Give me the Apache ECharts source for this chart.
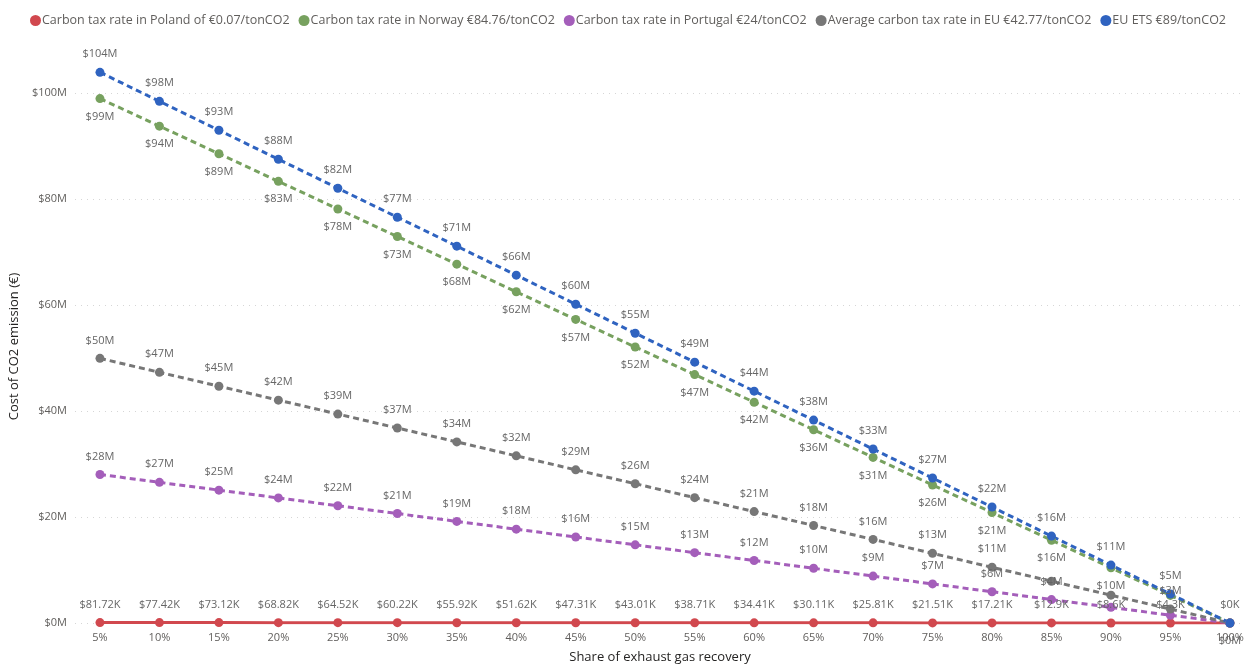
<!DOCTYPE html>
<html>
<head>
<meta charset="utf-8">
<script src="https://cdn.jsdelivr.net/npm/echarts@6/dist/echarts.min.js"></script>
<style>
  html, body { margin: 0; padding: 0; background: #fff; }
  #chart { width: 1248px; height: 666px; }
</style>
</head>
<body>
<div id="chart"></div>
<script>
// Share of exhaust gas recovery (%)
const shares = [5, 10, 15, 20, 25, 30, 35, 40, 45, 50, 55, 60, 65, 70, 75, 80, 85, 90, 95, 100];

// Cost of CO2 emission, in millions
const poland = [0.08172, 0.07742, 0.07312, 0.06882, 0.06452, 0.06022, 0.05592, 0.05162, 0.04731, 0.04301,
                0.03871, 0.03441, 0.03011, 0.02581, 0.02151, 0.01721, 0.0129, 0.0086, 0.0043, 0];
const norway = [98.95, 93.75, 88.54, 83.33, 78.12, 72.92, 67.71, 62.49, 57.28, 52.08,
                46.87, 41.66, 36.46, 31.25, 26.04, 20.84, 15.62, 10.41, 5.21, 0];
const portugal = [28.02, 26.54, 25.07, 23.60, 22.12, 20.65, 19.17, 17.70, 16.22, 14.75,
                  13.27, 11.80, 10.32, 8.85, 7.37, 5.90, 4.42, 2.95, 1.47, 0];
const euAverage = [49.93, 47.30, 44.68, 42.05, 39.42, 36.79, 34.17, 31.54, 28.90, 26.28,
                   23.65, 21.02, 18.40, 15.77, 13.14, 10.51, 7.88, 5.25, 2.63, 0];
const euEts = [103.90, 98.43, 92.97, 87.50, 82.03, 76.56, 71.10, 65.63, 60.15, 54.68,
               49.22, 43.75, 38.28, 32.82, 27.35, 21.88, 16.40, 10.93, 5.47, 0];

const seriesNames = [
  'Carbon tax rate in Poland of €0.07/tonCO2',
  'Carbon tax rate in Norway €84.76/tonCO2',
  'Carbon tax rate in Portugal €24/tonCO2',
  'Average carbon tax rate in EU €42.77/tonCO2',
  'EU ETS €89/tonCO2'
];
const yTicks = [0, 20, 40, 60, 80, 100];

const FONT = '"Open Sans", "Noto Sans", sans-serif';
const colors = ['#D1484E', '#77A15F', '#A45EBA', '#777777', '#2F63C0'];

const fmtM = v => '$' + Math.round(v) + 'M';
const fmtK = v => {
  const k = Math.round(v * 1000 * 100) / 100;
  return '$' + k + 'K';
};

function pairs(values) {
  return values.map((v, i) => [shares[i], v]);
}

function makeSeries(name, values, color, dashed, labelPos, fmt) {
  return {
    name: name,
    type: 'line',
    data: pairs(values),
    symbol: 'circle',
    symbolSize: 9,
    showSymbol: true,
    itemStyle: { color: color },
    lineStyle: { color: color, width: 3, type: dashed ? [6, 4] : 'solid' },
    label: {
      show: true,
      position: labelPos,
      distance: 8,
      color: '#666666',
      fontFamily: FONT,
      fontSize: 11,
      formatter: p => fmt(p.value[1])
    },
    labelLayout: { hideOverlap: true },
    emphasis: { disabled: true },
    animation: false
  };
}

const chart = echarts.init(document.getElementById('chart'), null, { renderer: 'canvas' });

chart.setOption({
  backgroundColor: '#ffffff',
  color: colors,
  legend: {
    top: 9,
    left: 25,
    icon: 'circle',
    itemWidth: 11,
    itemHeight: 11,
    itemGap: 9,
    textStyle: { color: '#605E5C', fontFamily: FONT, fontSize: 12.5, padding: [0, 0, 0, -4] },
    data: seriesNames
  },
  grid: { left: 75, right: 3, top: 40, bottom: 43, outerBoundsMode: 'none', containLabel: false },
  xAxis: {
    type: 'value',
    min: 2.9,
    max: 101.27,
    name: 'Share of exhaust gas recovery',
    nameLocation: 'middle',
    nameGap: 28,
    nameTextStyle: { color: '#252423', fontFamily: FONT, fontSize: 13 },
    axisLine: { show: false },
    axisTick: { show: false },
    splitLine: { show: false },
    axisLabel: {
      customValues: shares,
      color: '#605E5C',
      fontFamily: FONT,
      fontSize: 11,
      margin: 9,
      formatter: v => v + '%'
    }
  },
  yAxis: {
    type: 'value',
    min: 0,
    max: 110,
    interval: 20,
    name: 'Cost of CO2 emission (€)',
    nameLocation: 'middle',
    nameGap: 53,
    nameRotate: 90,
    nameTextStyle: { color: '#252423', fontFamily: FONT, fontSize: 13, padding: [0, 0, 0, -30] },
    axisLine: { show: false },
    axisTick: { show: false },
    splitLine: {
      show: true,
      showMaxLine: false,
      lineStyle: { color: '#D6D6D6', type: [1, 5], width: 1 }
    },
    axisLabel: {
      customValues: yTicks,
      color: '#605E5C',
      fontFamily: FONT,
      fontSize: 11,
      margin: 8,
      formatter: v => '$' + v + 'M'
    }
  },
  series: [
    makeSeries(seriesNames[0], poland, colors[0], false, 'top', fmtK),
    makeSeries(seriesNames[1], norway, colors[1], true, 'bottom', fmtM),
    makeSeries(seriesNames[2], portugal, colors[2], true, 'top', fmtM),
    makeSeries(seriesNames[3], euAverage, colors[3], true, 'top', fmtM),
    makeSeries(seriesNames[4], euEts, colors[4], true, 'top', fmtM)
  ]
});
</script>
</body>
</html>
